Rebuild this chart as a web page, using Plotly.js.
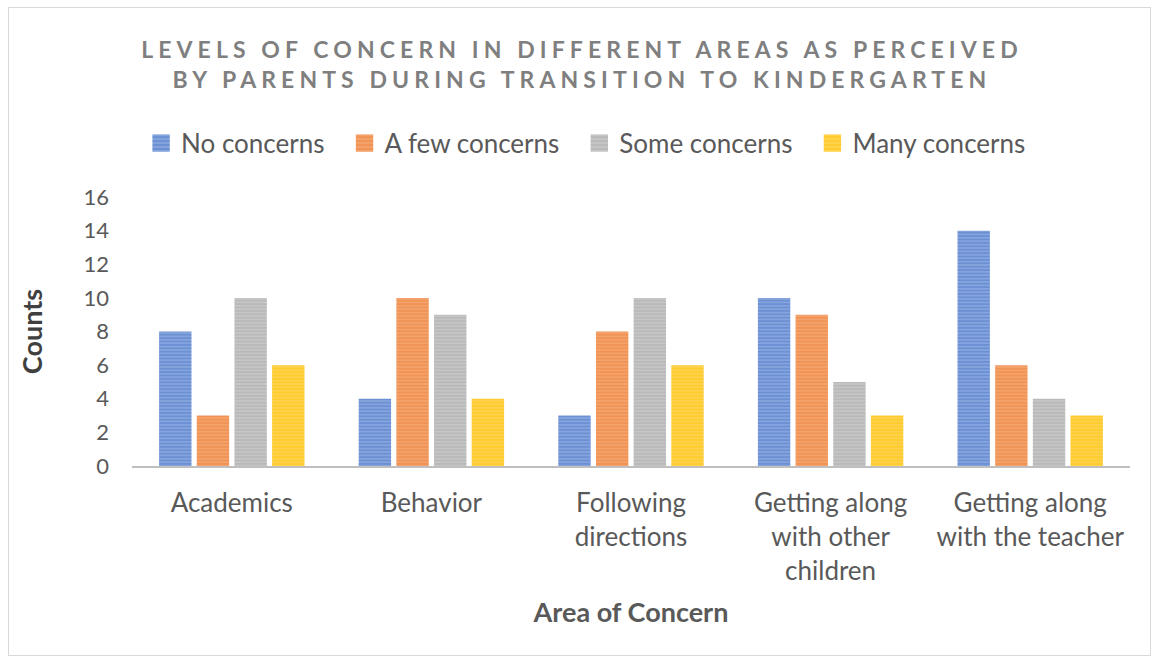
<!DOCTYPE html>
<html><head><meta charset="utf-8">
<script src="https://cdn.plot.ly/plotly-3.0.1.min.js"></script>
<style>body{margin:0;background:#fff}#wrap{position:relative;width:1157px;height:663px}#frame{position:absolute;left:8px;top:7px;width:1141px;height:647px;border:1px solid #d9d9d9;pointer-events:none}</style>
</head><body><div id="wrap"><div id="chart" style="width:1157px;height:663px"></div><div id="frame"></div></div>
<script>
const categories = ["Academics", "Behavior", "Following<br>directions", "Getting along<br>with other<br>children", "Getting along<br>with the teacher"];
const seriesNames = ["No concerns", "A few concerns", "Some concerns", "Many concerns"];
const noConcerns = [8, 4, 3, 10, 14];
const aFewConcerns = [3, 10, 8, 9, 6];
const someConcerns = [10, 9, 10, 5, 4];
const manyConcerns = [6, 4, 6, 3, 3];
const colors = ["#4472C4", "#ED7D31", "#A5A5A5", "#FFC000"];
const light = ["#93afe3", "#f4a977", "#cccccc", "#ffd65c"];
const values = [noConcerns, aFewConcerns, someConcerns, manyConcerns];
const font = "Lato, 'Open Sans', sans-serif";
const traces = values.map((v, i) => ({
  type: "bar", name: seriesNames[i], x: categories, y: v,
  marker: {color: light[i], line: {width: 0},
    pattern: {shape: "-", fgcolor: colors[i], bgcolor: light[i], size: 3.4, solidity: 0.68, fillmode: "overlay"}},
  hoverinfo: "y"
}));
const layout = {
  width: 1157, height: 663,
  margin: {l: 132, r: 27, t: 197, b: 197},
  paper_bgcolor: "#fff", plot_bgcolor: "#fff",
  font: {family: font, color: "#595959", size: 26},
  title: {text: "LEVELS OF CONCERN IN DIFFERENT AREAS AS PERCEIVED<br>BY PARENTS DURING TRANSITION TO KINDERGARTEN",
    font: {family: font, size: 23, color: "#7f7f7f", weight: "bold"}, x: 0.503, xanchor: "center", y: 0.913, yanchor: "middle"},
  showlegend: true,
  legend: {orientation: "h", x: 0.455, xanchor: "center", y: 1.2, yanchor: "middle", font: {size: 26, color: "#595959"}, itemwidth: 30, traceorder: "normal"},
  bargap: 0.245, bargroupgap: 0.14, barmode: "group",
  xaxis: {showline: true, linecolor: "#bfbfbf", linewidth: 2, ticks: "", showgrid: false,
    tickfont: {size: 26, color: "#595959"}, ticklabelstandoff: 13,
    title: {text: "Area of Concern", font: {size: 27, color: "#595959", weight: "bold"}, standoff: 18}},
  yaxis: {range: [0, 16], dtick: 2, showgrid: false, zeroline: false, showline: false, ticks: "",
    tickfont: {size: 22, color: "#595959"}, ticklabelstandoff: 22,
    title: {text: "Counts", font: {size: 27, color: "#404040", weight: "bold"}, standoff: 33}}
};
Plotly.newPlot("chart", traces, layout, {displayModeBar: false, staticPlot: true}).then(() => {
  document.querySelectorAll('.gtitle').forEach(t => { t.style.letterSpacing = '5.1px'; });
  // widen the legend spacing and enlarge the legend swatches (Excel-like)
  const extra = 15;
  document.querySelectorAll('.legend [clip-path]').forEach(el => el.removeAttribute('clip-path'));
  const items = document.querySelectorAll('.legend .traces');
  items.forEach((g, i) => {
    const m = /translate\(([-\d.]+)[ ,]+([-\d.]+)\)/.exec(g.getAttribute('transform') || '');
    if (m) g.setAttribute('transform', `translate(${parseFloat(m[1]) + i * extra - 1.5 * extra},${m[2]})`);
    g.querySelectorAll('.legendpoints path').forEach(p => {
      const t = p.getAttribute('transform') || '';
      p.setAttribute('transform', t + ' scale(1.45)');
    });
  });
});
</script></body></html>
